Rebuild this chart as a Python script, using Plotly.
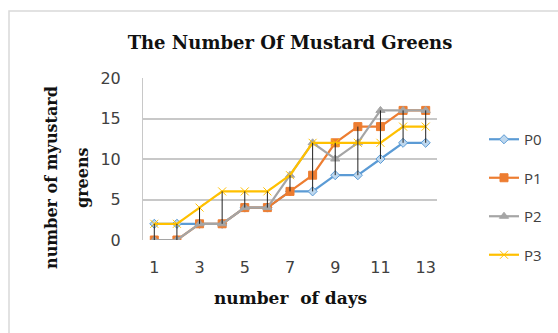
import plotly.graph_objects as go

days = list(range(1, 14))
p0 = [2, 2, 2, 2, 4, 4, 6, 6, 8, 8, 10, 12, 12]
p1 = [0, 0, 2, 2, 4, 4, 6, 8, 12, 14, 14, 16, 16]
p2 = [0, 0, 2, 2, 4, 4, 8, 12, 10, 12, 16, 16, 16]
p3 = [2, 2, 4, 6, 6, 6, 8, 12, 12, 12, 12, 14, 14]
names = ["P0", "P1", "P2", "P3"]
tick_vals = [1, 3, 5, 7, 9, 11, 13]
y_ticks = [0, 5, 10, 15, 20]

series = [p0, p1, p2, p3]
colors = ["#5B9BD5", "#ED7D31", "#A5A5A5", "#FFC000"]
symbols = ["diamond", "square", "triangle-up", "x-thin"]
sizes = [7, 8, 8, 8]

W, H = 558, 333
L, R, T, B = 143, 121, 78, 93
PW, PH = W - L - R, H - T - B


def px(x):
    return (x - L) / PW


def py(y):
    return (H - B - y) / PH


fig = go.Figure()
for i, (name, vals) in enumerate(zip(names, series)):
    mk = dict(symbol=symbols[i], size=sizes[i], color=colors[i],
              line=dict(color=colors[i], width=1))
    if i == 0:
        mk["color"] = "#BDD7EE"
    fig.add_trace(go.Scatter(x=days, y=vals, name=name, mode="lines+markers",
                             line=dict(color=colors[i], width=2.2), marker=mk,
                             legendgroup=name))

# high-low lines
hx, hy = [], []
for j, d in enumerate(days):
    col = [s[j] for s in series]
    hx += [d, d, None]
    hy += [min(col), max(col), None]
fig.add_trace(go.Scatter(x=hx, y=hy, mode="lines", line=dict(color="#222222", width=1),
                         showlegend=False, hoverinfo="skip"))

y_title_font = dict(family="DejaVu Serif", size=16, color="#111111", weight="bold")
x_title_font = dict(family="DejaVu Serif", size=17, color="#111111", weight="bold")

fig.update_layout(
    width=W, height=H,
    margin=dict(l=L, r=R, t=T, b=B, autoexpand=False),
    paper_bgcolor="white", plot_bgcolor="white",
    title=dict(text="The Number Of Mustard Greens", x=290 / W, xanchor="center", y=1 - 43 / H, yanchor="middle",
               font=dict(family="DejaVu Serif", size=18, color="#111111", weight="bold")),
    xaxis=dict(range=[0.5, 13.5], tickvals=tick_vals, showgrid=False, zeroline=False, automargin=False,
               showline=False, ticks="", ticklabelstandoff=16,
               tickfont=dict(family="DejaVu Sans", size=16, color="#404040")),
    yaxis=dict(range=[0, 20], tickvals=y_ticks, showgrid=True, gridcolor="#C8C8C8", gridwidth=1.5,
               zeroline=False, showline=True, linecolor="#C8C8C8", ticks="", automargin=False,
               ticklabelstandoff=18,
               tickfont=dict(family="DejaVu Sans", size=16, color="#404040")),
    legend=dict(xref="container", yref="container", x=484 / W, y=1 - 197 / H, xanchor="left", yanchor="middle",
                tracegroupgap=16,
                font=dict(family="Open Sans", size=15, color="#404040"), bgcolor="rgba(0,0,0,0)"),
    showlegend=True,
    annotations=[
        dict(text="number  of days", xref="paper", yref="paper", x=px(290), y=py(298),
             xanchor="center", yanchor="middle", showarrow=False, font=x_title_font),
        dict(text="number of myustard", xref="paper", yref="paper", x=px(51), y=py(178),
             xanchor="center", yanchor="middle", showarrow=False, textangle=-90, font=y_title_font),
        dict(text="greens", xref="paper", yref="paper", x=px(82), y=py(178),
             xanchor="center", yanchor="middle", showarrow=False, textangle=-90, font=y_title_font),
    ],
    shapes=[dict(type="rect", xref="paper", yref="paper", x0=px(9), x1=px(600),
                 y0=py(360), y1=py(11), line=dict(color="#D9D9D9", width=1.5))],
)
fig.write_html("out.html", config={"displayModeBar": False},
               post_script="document.body.style.margin='0';")
